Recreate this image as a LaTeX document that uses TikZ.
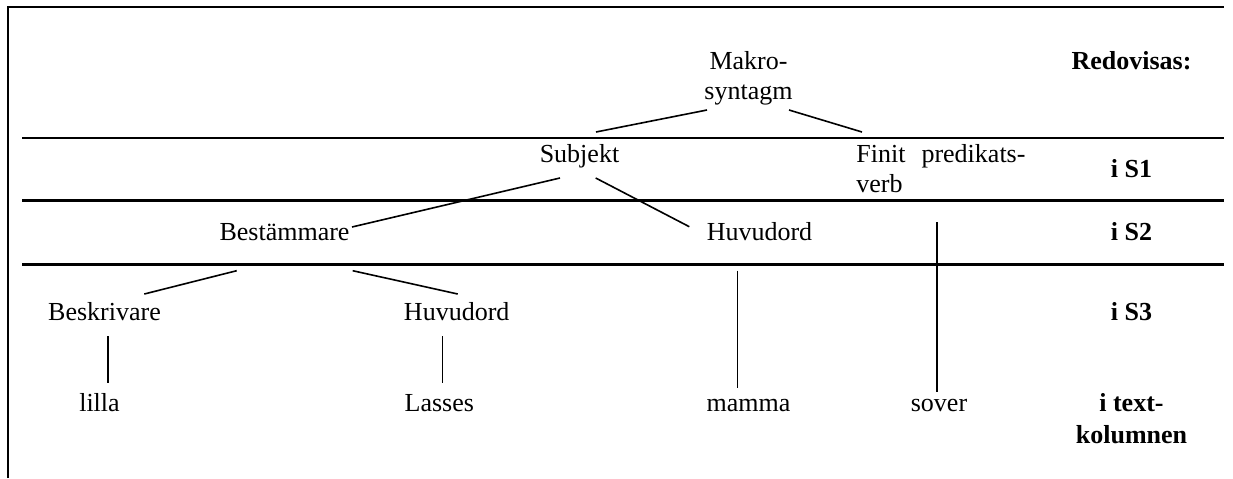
\documentclass[tikz,border=0pt]{standalone}
\usepackage{fontspec}
\setmainfont{Liberation Serif}
\begin{document}
\begin{tikzpicture}[x=0.5pt,y=-0.5pt,
  lbl/.style={inner sep=0pt, anchor=base, font=\fontsize{13}{15}\selectfont},
  rlbl/.style={lbl, font=\fontsize{13}{15}\selectfont\bfseries},
  conn/.style={line width=0.8pt},
  thinrule/.style={line width=1pt},
  thickrule/.style={line width=1.5pt},
  frame/.style={line width=1.2pt}]
\useasboundingbox (0,0) rectangle (1233,478);
% frame
\draw[frame] (8,478) -- (8,7) -- (1224,7);
% level rules
\draw[thinrule] (22,138) -- (1224,138);
\draw[thickrule] (22,200) -- (1224,200);
\draw[thickrule] (22,264) -- (1224,264);
% tree nodes
\node[lbl] (mak) at (748.5,69) {\begin{tabular}[t]{@{}c@{}}Makro-\\syntagm\end{tabular}};
\node[lbl] (subj) at (579.5,162) {Subjekt};
\node[lbl, anchor=base west] (fin) at (856,162) {\begin{tabular}[t]{@{}l@{}}Finit\hspace{8pt}predikats-\\verb\end{tabular}};
\node[lbl] (best) at (284.5,240.7) {Bestämmare};
\node[lbl] (huvA) at (759.5,240.7) {Huvudord};
\node[lbl] (besk) at (104.5,320.7) {Beskrivare};
\node[lbl] (huvB) at (456.7,320.7) {Huvudord};
\node[lbl] (lilla) at (99.5,411.7) {lilla};
\node[lbl] (lasses) at (439.3,411.7) {Lasses};
\node[lbl] (mamma) at (748.5,411.7) {mamma};
\node[lbl] (sover) at (939,411.7) {sover};
% right column
\node[rlbl] (red) at (1131.5,69) {Redovisas:};
\node[rlbl] (s1) at (1131.5,177) {i S1};
\node[rlbl] (s2) at (1131.5,240.7) {i S2};
\node[rlbl] (s3) at (1131.5,320.7) {i S3};
\node[rlbl] (tk) at (1131.5,411.7) {\begin{tabular}[t]{@{}c@{}}i text-\\[1pt]kolumnen\end{tabular}};
% connectors
\draw[conn] ([shift={(-41.5,41)}]mak.base) -- ([shift={(16.5,-30)}]subj.base);
\draw[conn] ([shift={(40.5,41)}]mak.base) -- ([shift={(6,-30)}]fin.base west);
\draw[conn] ([shift={(-19.5,16)}]subj.base) -- ([shift={(67.5,-13.7)}]best.base);
\draw[conn] ([shift={(16.2,16)}]subj.base) -- ([shift={(-70.2,-14)}]huvA.base);
\draw[conn] ([shift={(81,60)}]fin.base west) -- ([shift={(-2,-19.7)}]sover.base);
\draw[conn] ([shift={(-47.8,30)}]best.base) -- ([shift={(39.8,-26.7)}]besk.base);
\draw[conn] ([shift={(68.2,30)}]best.base) -- ([shift={(1,-26.7)}]huvB.base);
\draw[conn] ([shift={(3.2,15.3)}]besk.base) -- ([shift={(8.2,-28.4)}]lilla.base);
\draw[conn] ([shift={(-14.4,15.3)}]huvB.base) -- ([shift={(3,-28.4)}]lasses.base);
\draw[conn] ([shift={(-22.2,30)}]huvA.base) -- ([shift={(-11.2,-23.4)}]mamma.base);
\end{tikzpicture}
\end{document}
